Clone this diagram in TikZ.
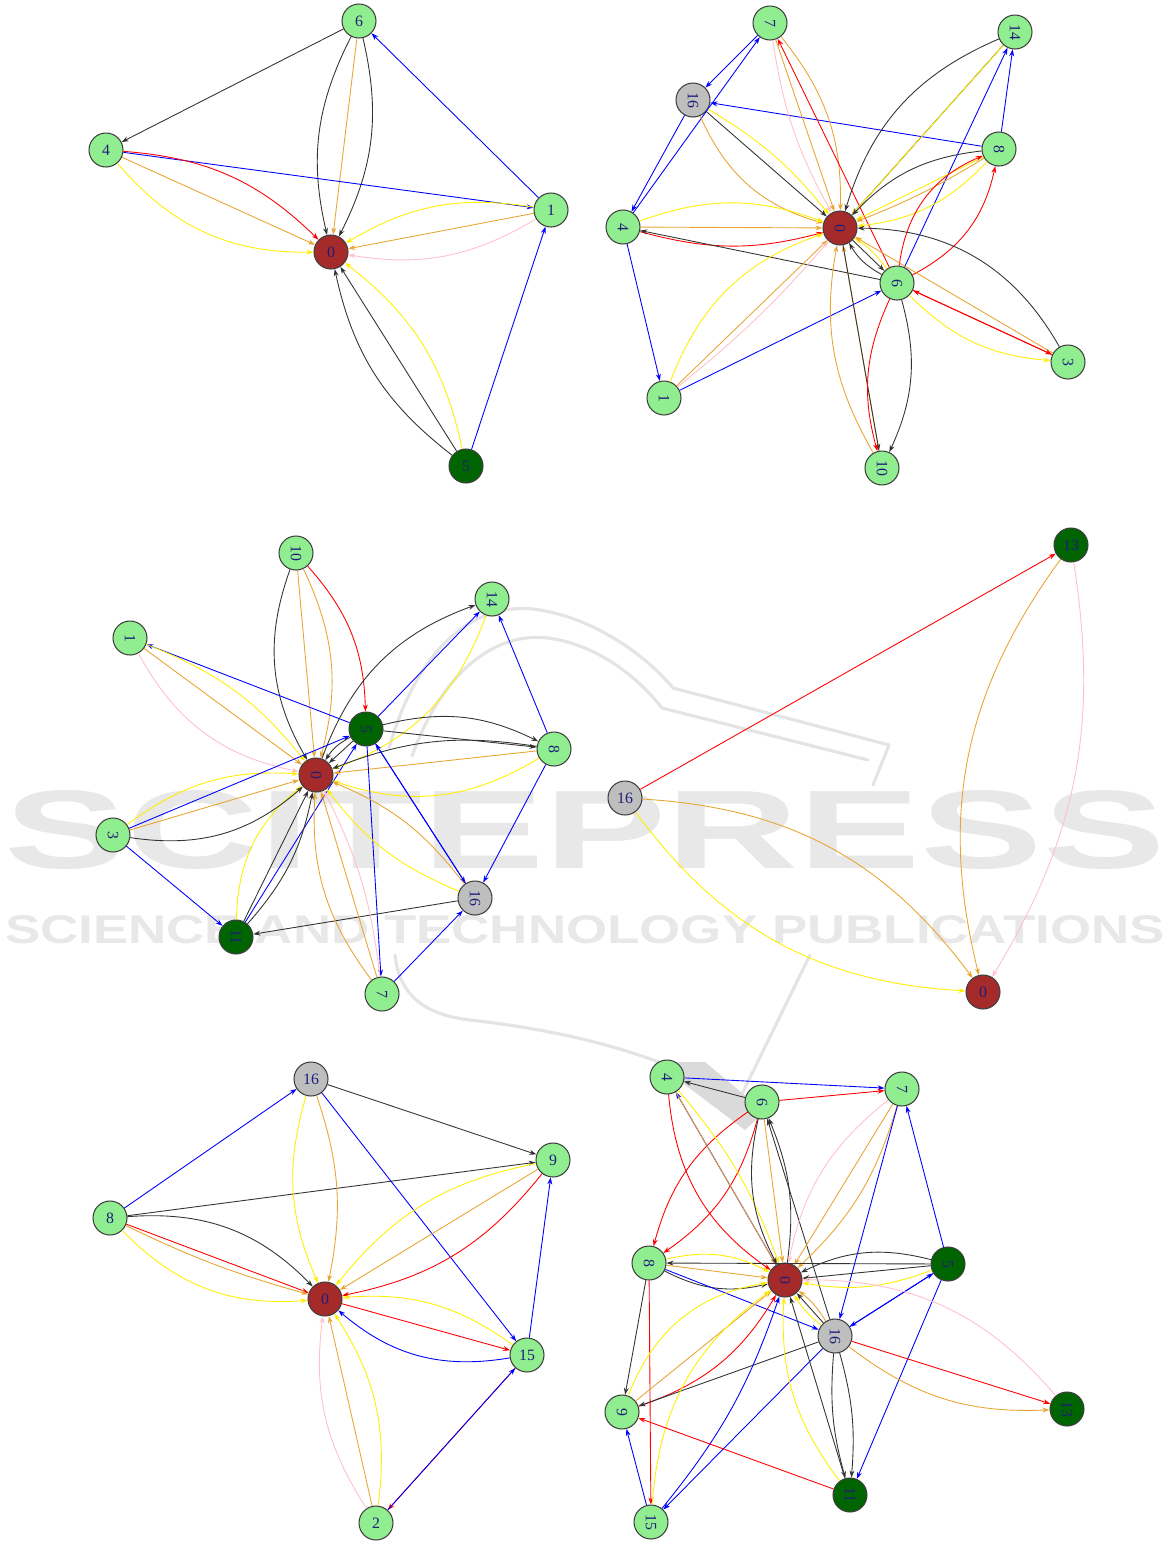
\documentclass[tikz,border=0pt]{standalone}
\usepackage{fontspec}
\setmainfont{Liberation Serif}
\setsansfont{Liberation Sans}
\usetikzlibrary{arrows.meta}

\definecolor{nodegreen}{RGB}{144,238,144}
\definecolor{nodedark}{RGB}{0,100,0}
\definecolor{nodebrown}{RGB}{165,42,42}
\definecolor{nodegrey}{RGB}{190,190,190}
\definecolor{labelblue}{RGB}{30,30,120}
\definecolor{edgeorange}{RGB}{232,165,50}
\definecolor{edgeyellow}{RGB}{255,238,0}
\definecolor{edgepink}{RGB}{255,192,203}
\definecolor{wmgrey}{RGB}{232,232,232}
\definecolor{wmline}{RGB}{228,228,228}
\definecolor{wmfill}{RGB}{218,218,218}

\begin{document}
\begin{tikzpicture}[x=0.02cm, y=0.02cm,
    vtx/.style={circle, draw=black!75, line width=0.6pt, minimum size=0.68cm, inner sep=0pt, font=\small, text=labelblue},
    lg/.style={vtx, fill=nodegreen},
    dg/.style={vtx, fill=nodedark},
    br/.style={vtx, fill=nodebrown},
    gr/.style={vtx, fill=nodegrey},
    rot/.style={rotate=-90},
    lnk/.style={line width=0.5pt, -{Stealth[length=4pt,width=2.8pt]}},
    eblk/.style={lnk, draw=black!80},
    eblu/.style={lnk, draw=blue},
    ered/.style={lnk, draw=red},
    eora/.style={lnk, draw=edgeorange},
    eyel/.style={lnk, draw=edgeyellow},
    epnk/.style={lnk, draw=edgepink},
    logo/.style={draw=wmline, line width=1.8pt, line cap=round, line join=round}]

\useasboundingbox (0,0) rectangle (1169,-1542);

% watermark
\node[text=wmgrey, inner sep=0pt] (wmbig) at (585,-830) {\resizebox{23.2cm}{1.56cm}{\sffamily\bfseries SCITEPRESS}};
\node[text=wmgrey, inner sep=0pt] (wmsmall) at (585,-930) {\resizebox{23.2cm}{0.56cm}{\sffamily\bfseries SCIENCE AND TECHNOLOGY PUBLICATIONS}};
\draw[logo] (389,-748) .. controls (420,-640) and (480,-600) .. (540,-610) .. controls (600,-620) and (650,-660) .. (673,-688) -- (889,-745) -- (873,-785);
\draw[logo] (412,-756) .. controls (445,-665) and (500,-632) .. (548,-638) .. controls (600,-645) and (640,-680) .. (662,-708) -- (868,-760);
\draw[logo] (395,-955) .. controls (400,-1000) and (430,-1015) .. (470,-1020) .. controls (560,-1030) and (640,-1050) .. (700,-1080) -- (745,-1112);
\draw[logo] (810,-955) -- (740,-1098);
\fill[wmfill] (655,-1062) -- (705,-1062) -- (765,-1112) -- (745,-1130) -- cycle;

% graph 1 (top left)
\node[lg] (a6) at (359,-21) {6};
\node[lg] (a4) at (106,-150) {4};
\node[lg] (a1) at (551,-210) {1};
\node[br] (a0) at (331,-252) {0};
\node[dg] (a5) at (466,-466) {5};

\draw[eblk] (a6) -- (a4);
\draw[eblk] (a6) to[bend right=20] (a0);
\draw[eora] (a6) -- (a0);
\draw[eblk] (a6) to[bend left=20] (a0);
\draw[eblu] (a1) -- (a6);
\draw[eblu] (a4) -- (a1);
\draw[ered] (a4) to[bend left=20] (a0);
\draw[eora] (a4) -- (a0);
\draw[eyel] (a4) to[bend right=25] (a0);
\draw[eyel] (a1) to[bend right=20] (a0);
\draw[eora] (a1) -- (a0);
\draw[epnk] (a1) to[bend left=20] (a0);
\draw[eblk] (a5) to[bend left=20] (a0);
\draw[eblk] (a5) -- (a0);
\draw[eyel] (a5) to[bend right=20] (a0);
\draw[eblu] (a5) -- (a1);

% graph 2 (top right)
\node[lg, rot] (b7) at (770,-23) {7};
\node[lg, rot] (b14) at (1015,-32) {14};
\node[gr, rot] (b16) at (693,-100) {16};
\node[lg, rot] (b8) at (999,-149) {8};
\node[lg, rot] (b4) at (623,-227) {4};
\node[br, rot] (b0) at (840,-228) {0};
\node[lg, rot] (b6) at (897,-283) {6};
\node[lg, rot] (b3) at (1068,-362) {3};
\node[lg, rot] (b1) at (664,-398) {1};
\node[lg, rot] (b10) at (882,-468) {10};

\draw[eblu] (b7) -- (b16);
\draw[eblu] (b4) -- (b7);
\draw[eblu] (b16) -- (b4);
\draw[eblu] (b8) -- (b16);
\draw[eblu] (b8) -- (b14);
\draw[eblu] (b6) -- (b14);
\draw[eblu] (b4) -- (b1);
\draw[eblu] (b1) -- (b6);
\draw[eyel] (b16) to[bend left=10] (b0);
\draw[eora] (b16) to[bend right=25] (b0);
\draw[eblk] (b16) -- (b0);
\draw[epnk] (b7) to[bend right=10] (b0);
\draw[eora] (b7) -- (b0);
\draw[eora] (b7) to[bend left=20] (b0);
\draw[ered] (b6) -- (b7);
\draw[eblk] (b14) to[bend right=25] (b0);
\draw[eblk] (b14) -- (b0);
\draw[eyel] (b14) -- (b0);
\draw[eblk] (b8) to[bend right=20] (b0);
\draw[eyel] (b8) -- (b0);
\draw[eora] (b8) to[bend left=5] (b0);
\draw[eyel] (b8) to[bend left=20] (b0);
\draw[ered] (b6) to[bend left=30] (b8);
\draw[ered] (b6) to[bend right=25] (b8);
\draw[eyel] (b4) to[bend left=20] (b0);
\draw[eora] (b4) -- (b0);
\draw[ered] (b4) to[bend right=15] (b0);
\draw[eblk] (b6) -- (b4);
\draw[eyel] (b1) to[bend left=25] (b0);
\draw[eora] (b1) -- (b0);
\draw[epnk] (b1) to[bend right=5] (b0);
\draw[eblk] (b0) -- (b6);
\draw[eblk] (b6) to[bend left=15] (b0);
\draw[eyel] (b6) to[bend right=10] (b0);
\draw[eblk] (b3) to[bend right=30] (b0);
\draw[eora] (b3) -- (b0);
\draw[ered] (b6) -- (b3);
\draw[ered] (b3) -- (b6);
\draw[eyel] (b6) to[bend right=20] (b3);
\draw[eora] (b10) to[bend left=20] (b0);
\draw[eora] (b10) -- (b0);
\draw[eblk] (b0) -- (b10);
\draw[eblk] (b6) to[bend left=20] (b10);
\draw[ered] (b6) to[bend right=20] (b10);

% graph 3 (middle left)
\node[lg, rot] (c10) at (296,-553) {10};
\node[lg, rot] (c14) at (492,-599) {14};
\node[lg, rot] (c1) at (130,-638) {1};
\node[dg, rot] (c5) at (366,-729) {5};
\node[lg, rot] (c8) at (554,-749) {8};
\node[br, rot] (c0) at (316,-775) {0};
\node[lg, rot] (c3) at (113,-835) {3};
\node[gr, rot] (c16) at (475,-898) {16};
\node[dg, rot] (c11) at (236,-937) {11};
\node[lg, rot] (c7) at (382,-994) {7};

\draw[eblk] (c10) to[bend right=25] (c0);
\draw[eora] (c10) -- (c0);
\draw[eora] (c10) to[bend left=20] (c0);
\draw[ered] (c10) to[bend left=20] (c5);
\draw[eblu] (c5) -- (c1);
\draw[eora] (c1) -- (c0);
\draw[eyel] (c1) to[bend left=15] (c0);
\draw[epnk] (c1) to[bend right=25] (c0);
\draw[eblk] (c0) to[bend left=25] (c14);
\draw[eblu] (c5) -- (c14);
\draw[eblu] (c11) -- (c5);
\draw[eyel] (c14) to[bend left=25] (c0);
\draw[eblu] (c8) -- (c14);
\draw[eblk] (c5) to[bend left=20] (c8);
\draw[eblk] (c5) -- (c8);
\draw[eblk] (c8) to[bend right=15] (c0);
\draw[eora] (c8) -- (c0);
\draw[eyel] (c8) to[bend left=25] (c0);
\draw[eblu] (c8) -- (c16);
\draw[eblu] (c5) -- (c16);
\draw[eblu] (c16) -- (c5);
\draw[eblu] (c5) -- (c7);
\draw[eblu] (c7) -- (c16);
\draw[eblk] (c16) -- (c11);
\draw[eyel] (c16) to[bend left=15] (c0);
\draw[eora] (c16) to[bend right=15] (c0);
\draw[eora] (c7) -- (c0);
\draw[eora] (c7) to[bend left=20] (c0);
\draw[epnk] (c7) to[bend right=10] (c0);
\draw[eyel] (c11) to[bend left=25] (c0);
\draw[eblk] (c11) -- (c0);
\draw[eblk] (c11) to[bend right=15] (c0);
\draw[eyel] (c3) to[bend left=20] (c0);
\draw[eora] (c3) -- (c0);
\draw[eblk] (c3) to[bend right=25] (c0);
\draw[eblu] (c3) -- (c5);
\draw[eblu] (c3) -- (c11);
\draw[eblk] (c5) -- (c0);
\draw[eblk] (c5) to[bend right=15] (c0);

% graph 4 (middle right)
\node[dg] (d13) at (1071,-545) {13};
\node[gr] (d16) at (625,-798) {16};
\node[br] (d0) at (983,-992) {0};

\draw[ered] (d16) -- (d13);
\draw[eora] (d13) to[bend right=25] (d0);
\draw[epnk] (d13) to[bend left=20] (d0);
\draw[eora] (d16) to[bend left=25] (d0);
\draw[eyel] (d16) to[bend right=25] (d0);

% graph 5 (bottom left)
\node[gr] (e16) at (311,-1079) {16};
\node[lg] (e9) at (553,-1160) {9};
\node[lg] (e8) at (110,-1218) {8};
\node[br] (e0) at (325,-1299) {0};
\node[lg] (e15) at (527,-1355) {15};
\node[lg] (e2) at (376,-1523) {2};

\draw[eblu] (e8) -- (e16);
\draw[eblk] (e16) -- (e9);
\draw[eblk] (e8) -- (e9);
\draw[eblu] (e16) -- (e15);
\draw[eblu] (e15) -- (e9);
\draw[eyel] (e16) to[bend right=20] (e0);
\draw[eora] (e16) to[bend left=15] (e0);
\draw[eblk] (e8) to[bend left=25] (e0);
\draw[ered] (e8) -- (e0);
\draw[eora] (e8) to[bend right=5] (e0);
\draw[eyel] (e8) to[bend right=25] (e0);
\draw[eyel] (e9) to[bend right=20] (e0);
\draw[eora] (e9) -- (e0);
\draw[ered] (e9) to[bend left=20] (e0);
\draw[ered] (e0) -- (e15);
\draw[eyel] (e15) to[bend right=20] (e0);
\draw[eblu] (e15) to[bend left=25] (e0);
\draw[ered] (e15) -- (e2);
\draw[eblu] (e2) -- (e15);
\draw[epnk] (e2) to[bend left=20] (e0);
\draw[eora] (e2) -- (e0);
\draw[eyel] (e2) to[bend right=20] (e0);

% graph 6 (bottom right)
\node[lg, rot] (f4) at (667,-1077) {4};
\node[lg, rot] (f6) at (762,-1102) {6};
\node[lg, rot] (f7) at (902,-1089) {7};
\node[lg, rot] (f8) at (649,-1263) {8};
\node[br, rot] (f0) at (785,-1280) {0};
\node[dg, rot] (f5) at (948,-1264) {5};
\node[gr, rot] (f16) at (835,-1336) {16};
\node[dg, rot] (f13) at (1067,-1409) {13};
\node[lg, rot] (f9) at (622,-1412) {9};
\node[dg, rot] (f11) at (850,-1495) {11};
\node[lg, rot] (f15) at (651,-1522) {15};

\draw[eblk] (f6) -- (f4);
\draw[eblu] (f4) -- (f7);
\draw[ered] (f6) -- (f7);
\draw[ered] (f6) to[bend right=20] (f8);
\draw[ered] (f6) to[bend left=20] (f8);
\draw[ered] (f4) to[bend right=25] (f0);
\draw[eblu] (f0) -- (f4);
\draw[eora] (f4) -- (f0);
\draw[eyel] (f4) to[bend left=10] (f0);
\draw[eblk] (f6) to[bend right=20] (f0);
\draw[eora] (f6) -- (f0);
\draw[eblk] (f0) to[bend right=15] (f6);
\draw[eblk] (f16) -- (f6);
\draw[epnk] (f7) to[bend right=20] (f0);
\draw[eora] (f7) -- (f0);
\draw[eora] (f7) to[bend left=15] (f0);
\draw[eblu] (f7) -- (f16);
\draw[eblu] (f5) -- (f7);
\draw[eblk] (f5) -- (f8);
\draw[eblk] (f5) to[bend right=20] (f0);
\draw[eblk] (f5) -- (f0);
\draw[eyel] (f5) to[bend left=15] (f0);
\draw[eblu] (f16) -- (f5);
\draw[eblu] (f5) -- (f16);
\draw[eblu] (f5) -- (f11);
\draw[eyel] (f8) to[bend left=20] (f0);
\draw[eora] (f8) -- (f0);
\draw[eblk] (f8) to[bend right=20] (f0);
\draw[eblu] (f8) -- (f16);
\draw[eblk] (f8) -- (f9);
\draw[ered] (f8) -- (f15);
\draw[eyel] (f9) to[bend left=30] (f0);
\draw[eora] (f9) -- (f0);
\draw[ered] (f9) to[bend right=20] (f0);
\draw[eblk] (f16) -- (f9);
\draw[eblu] (f15) -- (f9);
\draw[eyel] (f15) to[bend left=25] (f0);
\draw[eblu] (f15) to[bend right=10] (f0);
\draw[eblu] (f16) -- (f15);
\draw[ered] (f11) -- (f9);
\draw[eyel] (f11) to[bend left=20] (f0);
\draw[eblk] (f11) -- (f0);
\draw[eblk] (f16) to[bend left=10] (f11);
\draw[eblk] (f16) to[bend right=10] (f11);
\draw[eblk] (f16) -- (f0);
\draw[eyel] (f16) to[bend left=10] (f0);
\draw[eora] (f16) to[bend right=10] (f0);
\draw[ered] (f16) -- (f13);
\draw[eora] (f16) to[bend right=20] (f13);
\draw[epnk] (f13) to[bend right=25] (f0);
\end{tikzpicture}
\end{document}
